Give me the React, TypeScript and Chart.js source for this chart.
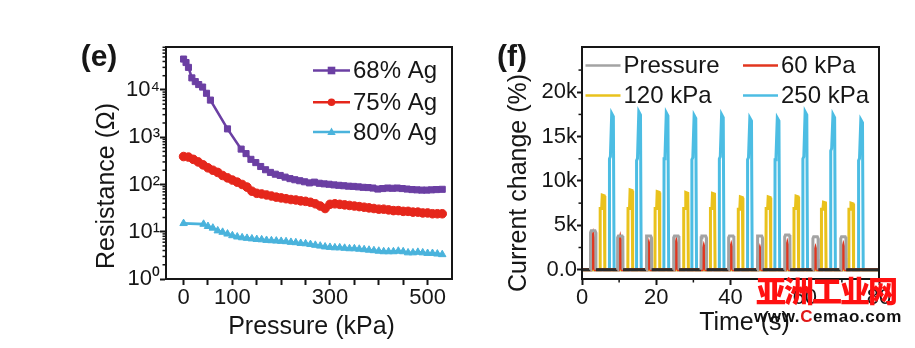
import React, { useEffect, useRef } from 'react';
import { Chart, registerables } from 'chart.js';

Chart.register(...registerables);

const FONT = "'Liberation Sans', Arial, Helvetica, sans-serif";
const INK = '#161616';

// ---------------- Panel (e): resistance vs pressure ----------------
const eSeriesNames = ['68% Ag', '75% Ag', '80% Ag'];
const eColors = ['#6b3fa3', '#e5261b', '#4ab3dc'];
const eMarkers = ['rect', 'circle', 'triangle'];

const ag68Pressure = [0, 5, 10, 17, 24, 31, 39, 47, 55, 90, 118, 128, 138, 148, 158, 168, 178, 188, 198, 208, 218, 228, 238, 248, 258, 268, 278, 288, 298, 308, 318, 328, 338, 348, 358, 368, 378, 388, 398, 408, 418, 428, 438, 448, 458, 468, 478, 488, 498, 508, 518, 530];
const ag68Resistance = [45000, 38000, 30000, 18000, 15000, 13000, 11500, 8500, 6100, 1500, 560, 450, 340, 290, 240, 205, 180, 165, 155, 143, 133, 126, 120, 114, 108, 112, 106, 103, 101, 98, 96, 94, 92, 91, 89, 87, 86, 84, 80, 82, 84, 83, 84, 82, 80, 78, 77, 76, 76, 77, 78, 79];

const ag75Pressure = [0, 10, 20, 30, 40, 50, 60, 70, 80, 90, 100, 110, 120, 130, 140, 150, 160, 170, 180, 190, 200, 210, 220, 230, 240, 250, 260, 270, 280, 290, 300, 310, 320, 330, 340, 350, 360, 370, 380, 390, 400, 410, 420, 430, 440, 450, 460, 470, 480, 490, 500, 510, 520, 530];
const ag75Resistance = [390, 380, 340, 300, 260, 225, 200, 180, 155, 138, 124, 112, 100, 88, 72, 65, 63, 60, 57, 54, 52, 50, 48, 47, 45, 44, 42, 39, 35, 31, 38, 39, 38, 37, 36, 35, 34, 33, 32, 31, 30, 30, 29, 28, 28, 27, 27, 26, 26, 25, 25, 24, 24, 24];

const ag80Pressure = [0, 41, 50, 60, 70, 80, 90, 100, 110, 120, 130, 140, 150, 160, 170, 180, 190, 200, 210, 220, 230, 240, 250, 260, 270, 280, 290, 300, 310, 320, 330, 340, 350, 360, 370, 380, 390, 400, 410, 420, 430, 440, 450, 460, 470, 480, 490, 500, 510, 520, 530];
const ag80Resistance = [15, 14.5, 13, 12, 10.5, 9.8, 9.0, 8.3, 7.8, 7.5, 7.3, 7.1, 6.9, 6.8, 6.6, 6.5, 6.4, 6.3, 6.2, 6.0, 5.9, 5.7, 5.6, 5.4, 5.2, 5.0, 4.8, 4.7, 4.6, 4.6, 4.5, 4.4, 4.4, 4.3, 4.2, 4.1, 4.0, 3.9, 3.8, 3.8, 3.8, 3.9, 3.8, 3.6, 3.6, 3.7, 3.6, 3.5, 3.5, 3.4, 3.3];

const eXTicks = [0, 50, 100, 150, 200, 250, 300, 350, 400, 450, 500];
const eXLabels = [0, 100, 300, 500];
const eYTicks = [1, 10, 100, 1000, 10000];
const eYMinor = [2, 3, 4, 5, 6, 7, 8, 9, 20, 30, 40, 50, 60, 70, 80, 90, 200, 300, 400, 500, 600, 700, 800, 900, 2000, 3000, 4000, 5000, 6000, 7000, 8000, 9000, 20000, 30000, 40000, 50000, 60000, 70000, 80000];

// ---------------- Panel (f): current change vs time ----------------
const fSeriesNames = ['Pressure', '60 kPa', '120 kPa', '250 kPa'];
const fColors = ['#a3a3a3', '#e2361f', '#e9c21c', '#4cbde3'];

const lowPulseTimes = [3.0, 10.3, 18.0, 25.4, 32.8, 40.2, 47.9, 55.3, 62.9, 70.4];
const pressureLevels = [4400, 3800, 3800, 3800, 3800, 3800, 3800, 3900, 3700, 3700];
const kPa60Peaks = [3800, 3500, 2900, 3100, 2600, 2700, 2400, 2900, 2400, 2700];
const kPa120Times = [5.8, 13.3, 20.6, 28.3, 35.5, 43.0, 50.5, 58.0, 65.4, 72.8];
const kPa120Peaks = [8400, 9000, 8800, 8700, 8600, 8200, 8200, 8300, 7600, 7500];
const kPa120Steps = [6900, 6900, 6900, 6900, 6900, 6800, 6900, 6900, 6800, 6800];
const kPa250Times = [8.3, 15.6, 23.0, 30.5, 37.9, 45.5, 52.9, 60.4, 67.9, 75.4];
const kPa250Peaks = [17600, 17800, 17700, 17400, 17500, 17100, 17100, 17800, 17500, 16900];
const kPa250Steps = [12500, 12300, 12500, 12400, 12500, 12400, 12400, 12500, 13400, 12300];

// pulse outlines: [time offset (s), level kind, fraction]
const pressureShape: [number, string, number][] = [[-0.75, 'p', 0], [-0.7, 'p', 0.95], [-0.5, 'p', 1], [0.5, 'p', 1], [0.7, 'p', 0.95], [0.75, 'p', 0]];
const kPa60Shape: [number, string, number][] = [[-0.6, 'p', 0], [-0.5, 'p', 0.5], [-0.25, 'p', 0.85], [0, 'p', 1], [0.25, 'p', 0.85], [0.5, 'p', 0.5], [0.6, 'p', 0]];
const kPa120Shape: [number, string, number][] = [[-0.95, 'p', 0], [-0.9, 's', 1], [-0.5, 's', 1], [-0.35, 'p', 1], [0.2, 'p', 0.99], [0.35, 'p', 0]];
const kPa250Shape: [number, string, number][] = [[-0.95, 'p', 0], [-0.9, 's', 1], [-0.65, 's', 1.02], [-0.3, 'p', 1], [0.15, 'p', 0.98], [0.35, 'p', 0]];

const fTimeStart = 0;
const fTimeEnd = 80;
const fXTicks = [0, 20, 40, 60, 80];
const fXMinor = [10, 30, 50, 70];
const fYTicks = [0, 5000, 10000, 15000, 20000];
const fYLabels = ['0.0', '5k', '10k', '15k', '20k'];
const fYMinor = [2500, 7500, 12500, 17500, 22500];

function buildPulses(times: number[], peaks: number[], steps: number[] | null, shape: [number, string, number][]) {
  const pts: { x: number; y: number }[] = [{ x: fTimeStart, y: 0 }];
  times.forEach((t, i) => {
    shape.forEach(([dt, kind, f]) => {
      const base = kind === 's' && steps ? steps[i] : peaks[i];
      pts.push({ x: t + dt, y: base * f });
    });
  });
  pts.push({ x: fTimeEnd, y: 0 });
  return pts;
}

function pairs(xs: number[], ys: number[]) {
  return xs.map((x, i) => ({ x, y: ys[i] }));
}

const SUP: Record<string, string> = { '0': '⁰', '1': '¹', '2': '²', '3': '³', '4': '⁴', '5': '⁵', '6': '⁶', '7': '⁷', '8': '⁸', '9': '⁹' };

function drawMarker(ctx: CanvasRenderingContext2D, kind: string, x: number, y: number, r: number) {
  ctx.beginPath();
  if (kind === 'rect') {
    ctx.rect(x - r, y - r, 2 * r, 2 * r);
  } else if (kind === 'triangle') {
    ctx.moveTo(x, y - r * 1.2);
    ctx.lineTo(x + r * 1.1, y + r * 0.8);
    ctx.lineTo(x - r * 1.1, y + r * 0.8);
    ctx.closePath();
  } else {
    ctx.arc(x, y, r, 0, Math.PI * 2);
  }
  ctx.fill();
}

const decor = {
  id: 'decor',
  afterDraw(chart: any, _args: any, o: any) {
    const { ctx, chartArea: a, scales } = chart;
    ctx.save();
    // frame
    ctx.strokeStyle = INK;
    ctx.lineWidth = 2;
    ctx.strokeRect(a.left, a.top, a.right - a.left, a.bottom - a.top);
    // minor ticks
    ctx.lineWidth = 1.5;
    (o.minorY || []).forEach((v: number) => {
      const p = scales.y.getPixelForValue(v);
      if (p < a.top - 0.5 || p > a.bottom + 0.5) return;
      ctx.beginPath();
      ctx.moveTo(a.left, p);
      ctx.lineTo(a.left - o.minorLen, p);
      ctx.stroke();
    });
    (o.minorX || []).forEach((v: number) => {
      const p = scales.x.getPixelForValue(v);
      ctx.beginPath();
      ctx.moveTo(p, a.bottom);
      ctx.lineTo(p, a.bottom + o.minorLen);
      ctx.stroke();
    });
    // axis titles
    ctx.fillStyle = INK;
    ctx.font = `25px ${FONT}`;
    ctx.textAlign = 'center';
    ctx.textBaseline = 'middle';
    ctx.fillText(o.xTitle, (a.left + a.right) / 2 + o.xTitleDx, a.bottom + o.xTitleDy);
    ctx.save();
    ctx.translate(a.left + o.yTitleDx, (a.top + a.bottom) / 2 + o.yTitleDy);
    ctx.rotate(-Math.PI / 2);
    ctx.fillText(o.yTitle, 0, 0);
    ctx.restore();
    // panel label
    ctx.font = `bold 30px ${FONT}`;
    ctx.textBaseline = 'alphabetic';
    ctx.fillText(o.panel, a.left + o.panelDx, a.top + o.panelDy);
    // legend
    ctx.font = `24px ${FONT}`;
    ctx.textAlign = 'left';
    ctx.textBaseline = 'middle';
    (o.legend || []).forEach((it: any) => {
      const x0 = a.left + it.lx;
      const y0 = a.top + it.ly;
      ctx.strokeStyle = it.color;
      ctx.lineWidth = it.lineWidth;
      ctx.beginPath();
      ctx.moveTo(x0, y0);
      ctx.lineTo(x0 + it.len, y0);
      ctx.stroke();
      if (it.marker) {
        ctx.fillStyle = it.color;
        drawMarker(ctx, it.marker, x0 + it.len / 2, y0, 3.8);
      }
      ctx.fillStyle = INK;
      ctx.fillText(it.label, x0 + it.len + 3, y0 + 1);
    });
    ctx.restore();
  },
};

const tickFont = { family: FONT, size: 22 };

function makeChartE(canvas: HTMLCanvasElement) {
  const xs = [ag68Pressure, ag75Pressure, ag80Pressure];
  const ys = [ag68Resistance, ag75Resistance, ag80Resistance];
  const rowsY = [23.5, 55.2, 85];
  return new Chart(canvas, {
    type: 'line',
    data: {
      datasets: eSeriesNames.map((name, i) => ({
        label: name,
        data: pairs(xs[i], ys[i]),
        borderColor: eColors[i],
        backgroundColor: eColors[i],
        pointBackgroundColor: eColors[i],
        pointBorderColor: eColors[i],
        pointStyle: eMarkers[i] as any,
        pointRadius: 4.3,
        pointBorderWidth: 1,
        borderWidth: 2.6,
        tension: 0,
        fill: false,
      })),
    },
    options: {
      responsive: false,
      animation: false,
      devicePixelRatio: 1,
      layout: { padding: { left: 0, top: 47, right: 18, bottom: 0 } },
      plugins: {
        legend: { display: false },
        tooltip: { enabled: false },
        decor: {
          minorY: eYMinor,
          minorX: [],
          minorLen: 3.5,
          xTitle: 'Pressure (kPa)',
          xTitleDx: 2.5,
          xTitleDy: 48.5,
          yTitle: 'Resistance (Ω)',
          yTitleDx: -58.5,
          yTitleDy: 23,
          panel: '(e)',
          panelDx: -67,
          panelDy: 19,
          legend: eSeriesNames.map((name, i) => ({
            label: name,
            color: eColors[i],
            marker: eMarkers[i],
            lx: 147,
            ly: rowsY[i],
            len: 37,
            lineWidth: 2.6,
          })),
        },
      } as any,
      scales: {
        x: {
          type: 'linear',
          min: -36,
          max: 550,
          bounds: 'data',
          afterBuildTicks: (s: any) => {
            s.ticks = eXTicks.map((v) => ({ value: v }));
          },
          afterFit: (s: any) => {
            s.height = 69;
          },
          ticks: {
            autoSkip: false,
            maxRotation: 0,
            padding: 0,
            color: INK,
            font: tickFont,
            callback: (v: any) => (eXLabels.includes(Number(v)) ? String(v) : ''),
          },
          grid: { drawOnChartArea: false, drawTicks: true, tickLength: 6, tickWidth: 2, tickColor: INK },
          border: { display: true, color: INK, width: 2 },
        },
        y: {
          type: 'logarithmic',
          min: 1,
          max: 81000,
          bounds: 'data',
          afterBuildTicks: (s: any) => {
            s.ticks = eYTicks.map((v) => ({ value: v }));
          },
          afterFit: (s: any) => {
            s.width = 166;
          },
          ticks: {
            autoSkip: false,
            padding: 0,
            color: INK,
            font: tickFont,
            callback: (v: any) => {
              const e = Math.round(Math.log10(Number(v)));
              return '10' + String(e).split('').map((c) => SUP[c]).join('');
            },
          },
          grid: { drawOnChartArea: false, drawTicks: true, tickLength: 6, tickWidth: 2, tickColor: INK },
          border: { display: true, color: INK, width: 2 },
        },
      },
    } as any,
    plugins: [decor],
  });
}

function makeChartF(canvas: HTMLCanvasElement) {
  const data = [
    buildPulses(lowPulseTimes, pressureLevels, null, pressureShape),
    buildPulses(lowPulseTimes, kPa60Peaks, null, kPa60Shape),
    buildPulses(kPa120Times, kPa120Peaks, kPa120Steps, kPa120Shape),
    buildPulses(kPa250Times, kPa250Peaks, kPa250Steps, kPa250Shape),
  ];
  const legendPos = [
    { lx: 3.5, ly: 18.5 },
    { lx: 161, ly: 18.5 },
    { lx: 3.5, ly: 48.5 },
    { lx: 161, ly: 48.5 },
  ];
  return new Chart(canvas, {
    type: 'line',
    data: {
      datasets: fSeriesNames.map((name, i) => ({
        label: name,
        data: data[i],
        borderColor: fColors[i],
        backgroundColor: fColors[i],
        borderWidth: 3,
        pointRadius: 0,
        tension: 0,
        fill: i === 1 ? 'origin' : false,
        order: i,
        segment:
          i === 0
            ? { borderColor: (c: any) => (c.p0.parsed.y === 0 && c.p1.parsed.y === 0 ? '#2b2b2b' : undefined) }
            : undefined,
      })),
    },
    options: {
      responsive: false,
      animation: false,
      devicePixelRatio: 1,
      layout: { padding: { left: 0, top: 47, right: 36, bottom: 0 } },
      plugins: {
        legend: { display: false },
        tooltip: { enabled: false },
        filler: { propagate: false },
        decor: {
          minorY: fYMinor,
          minorX: fXMinor,
          minorLen: 3.5,
          xTitle: 'Time (s)',
          xTitleDx: 14,
          xTitleDy: 44.5,
          yTitle: 'Current change (%)',
          yTitleDx: -63,
          yTitleDy: 20,
          panel: '(f)',
          panelDx: -70,
          panelDy: 19,
          legend: fSeriesNames.map((name, i) => ({
            label: name,
            color: fColors[i],
            marker: null,
            lx: legendPos[i].lx,
            ly: legendPos[i].ly,
            len: 35,
            lineWidth: 2.6,
          })),
        },
      } as any,
      scales: {
        x: {
          type: 'linear',
          min: fTimeStart,
          max: fTimeEnd,
          bounds: 'data',
          afterBuildTicks: (s: any) => {
            s.ticks = fXTicks.map((v) => ({ value: v }));
          },
          afterFit: (s: any) => {
            s.height = 69;
          },
          ticks: { autoSkip: false, maxRotation: 0, padding: 0, color: INK, font: tickFont, callback: (v: any) => String(v) },
          grid: { drawOnChartArea: false, drawTicks: true, tickLength: 6, tickWidth: 2, tickColor: INK },
          border: { display: true, color: INK, width: 2 },
        },
        y: {
          type: 'linear',
          min: -1050,
          max: 25100,
          bounds: 'data',
          afterBuildTicks: (s: any) => {
            s.ticks = fYTicks.map((v) => ({ value: v }));
          },
          afterFit: (s: any) => {
            s.width = 112;
          },
          ticks: {
            autoSkip: false,
            padding: 0,
            color: INK,
            font: tickFont,
            callback: (v: any) => fYLabels[fYTicks.indexOf(Number(v))] ?? '',
          },
          grid: { drawOnChartArea: false, drawTicks: true, tickLength: 5, tickWidth: 2, tickColor: INK },
          border: { display: true, color: INK, width: 2 },
        },
      },
    } as any,
    plugins: [decor],
  });
}

export default function App() {
  const eRef = useRef<HTMLCanvasElement>(null);
  const fRef = useRef<HTMLCanvasElement>(null);

  useEffect(() => {
    const ce = eRef.current ? makeChartE(eRef.current) : null;
    const cf = fRef.current ? makeChartF(fRef.current) : null;
    return () => {
      ce?.destroy();
      cf?.destroy();
    };
  }, []);

  return (
    <div
      style={{
        position: 'fixed',
        left: 0,
        top: 0,
        width: 915,
        height: 348,
        background: '#ffffff',
        overflow: 'hidden',
      }}
    >
      <canvas ref={eRef} width={470} height={348} style={{ position: 'absolute', left: 0, top: 0, width: 470, height: 348 }} />
      <canvas ref={fRef} width={445} height={348} style={{ position: 'absolute', left: 470, top: 0, width: 445, height: 348 }} />
      <div
        style={{
          position: 'absolute',
          left: 756,
          top: 272,
          fontFamily: "'Noto Sans CJK SC', sans-serif",
          fontWeight: 900,
          fontSize: 30,
          lineHeight: '34px',
          letterSpacing: -2,
          color: '#ff1010',
          whiteSpace: 'nowrap',
        }}
      >
        亚洲工业网
      </div>
      <div
        style={{
          position: 'absolute',
          left: 754,
          top: 307,
          fontFamily: FONT,
          fontWeight: 700,
          fontSize: 17,
          lineHeight: '20px',
          letterSpacing: 0.6,
          color: '#111',
          whiteSpace: 'nowrap',
        }}
      >
        www.<span style={{ color: '#e01818' }}>C</span>emao.com
      </div>
    </div>
  );
}
